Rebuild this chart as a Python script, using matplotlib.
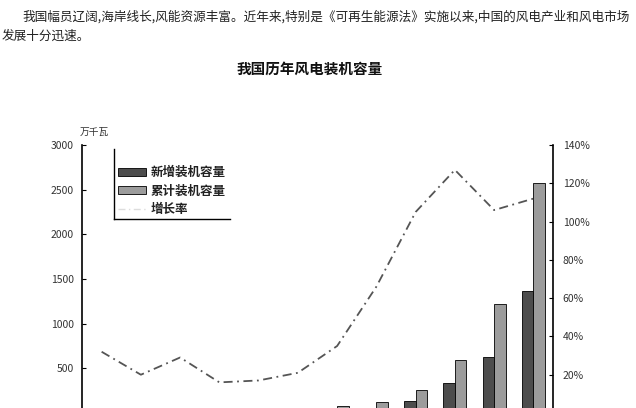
import numpy as np
import matplotlib
matplotlib.use('Agg')
import matplotlib.pyplot as plt
from matplotlib.lines import Line2D
from matplotlib.patches import Patch

plt.rcParams['font.family'] = ['Noto Sans CJK SC', 'DejaVu Sans']

# data (万千瓦 / %)
years = ['1998', '1999', '2000', '2001', '2002', '2003',
         '2004', '2005', '2006', '2007', '2008', '2009']
new_cap = [5, 4, 8, 6, 7, 10, 20, 50, 133, 331, 625, 1370]
total_cap = [22, 27, 35, 40, 47, 57, 76, 127, 260, 590, 1215, 2575]
growth = [32, 20, 29, 16, 17, 21, 35, 66, 105, 127, 106, 112]

left_ticks = [0, 500, 1000, 1500, 2000, 2500, 3000]
right_ticks = [0, 20, 40, 60, 80, 100, 120, 140]

W, H = 636, 408
fig = plt.figure(figsize=(W / 100, H / 100), dpi=100)

# intro paragraph above the chart
txt_col = '#222222'
fig.text(22 / W, 1 - 17 / H,
         '我国幅员辽阔,海岸线长,风能资源丰富。近年来,特别是《可再生能源法》实施以来,中国的风电产业和风电市场',
         fontsize=9.1, color=txt_col, va='center', ha='left')
fig.text(2 / W, 1 - 36 / H, '发展十分迅速。',
         fontsize=9.1, color=txt_col, va='center', ha='left')

# chart
ax = fig.add_axes([82 / W, (H - 413) / H, (553 - 82) / W, (413 - 145) / H])
ax2 = ax.twinx()

x = np.arange(len(years))
bw = 0.29
ax.bar(x - bw / 2, new_cap, bw, color='#4d4d4d', edgecolor='black', linewidth=0.6)
ax.bar(x + bw / 2, total_cap, bw, color='#9c9c9c', edgecolor='black', linewidth=0.6)
ax2.plot(x, np.array(growth) / 100, color='#555555', linewidth=1.3,
         linestyle=(0, (5, 2.5, 1, 2.5)))

ax.set_xlim(-0.5, len(years) - 0.5)
ax.set_ylim(0, 3000)
ax2.set_ylim(0, 1.4)
ax.set_xticks([])

# the zero labels fall below the cropped bottom edge, so leave them blank
ax.set_yticks(left_ticks)
ax.set_yticklabels(['' if v == 0 else str(v) for v in left_ticks])
ax2.set_yticks([v / 100 for v in right_ticks])
ax2.set_yticklabels(['' if v == 0 else f'{v}%' for v in right_ticks])

for a in (ax, ax2):
    for s in ('top', 'bottom'):
        a.spines[s].set_visible(False)
    a.spines['left'].set_linewidth(1.2)
    a.spines['right'].set_linewidth(1.2)
    a.patch.set_alpha(0)
ax.spines['right'].set_visible(False)
ax2.spines['left'].set_visible(False)

ax.tick_params(axis='y', direction='in', length=3, width=0.8, pad=6,
               labelsize=7.5, labelcolor='#333333')
ax2.tick_params(axis='y', direction='in', length=3, width=0.8, pad=7,
                labelsize=7.5, labelcolor='#333333')

fig.text(94 / W, 1 - 132 / H, '万千瓦', fontsize=7, color='#333333',
         ha='center', va='center')

fig.text(310 / W, 1 - 69 / H, '我国历年风电装机容量', fontsize=10.5,
         fontweight='bold', color='#111111', ha='center', va='center')

# legend
handles = [Patch(facecolor='#4d4d4d', edgecolor='black', linewidth=0.6),
           Patch(facecolor='#9c9c9c', edgecolor='black', linewidth=0.6),
           Line2D([], [], color='#dddddd', linewidth=1.0, linestyle=(0, (5, 2.5, 1, 2.5)))]
labels = ['新增装机容量', '累计装机容量', '增长率']
leg = fig.legend(handles, labels, loc='lower left',
                 bbox_to_anchor=(114 / W, 1 - 220 / H), bbox_transform=fig.transFigure,
                 frameon=False, fontsize=9, handlelength=2.3, handleheight=0.6,
                 handletextpad=0.35, labelspacing=0.45, borderpad=0.3, borderaxespad=0)
for t in leg.get_texts():
    t.set_color('#222222')
    t.set_fontweight('bold')

# L-shaped remnant of the legend frame
fig.add_artist(Line2D([114 / W, 114 / W], [1 - 149 / H, 1 - 219 / H],
                      color='black', linewidth=1.0, transform=fig.transFigure))
fig.add_artist(Line2D([114 / W, 230 / W], [1 - 219 / H, 1 - 219 / H],
                      color='black', linewidth=1.0, transform=fig.transFigure))

fig.savefig('out.png', dpi=100)
